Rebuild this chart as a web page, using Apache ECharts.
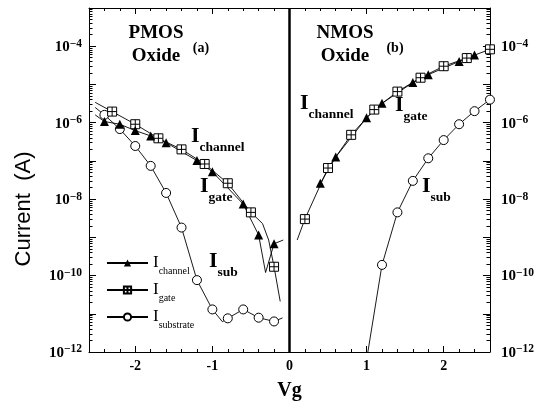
<!DOCTYPE html>
<html>
<head>
<meta charset="utf-8">
<title>Oxide currents vs Vg</title>
<script src="https://cdn.jsdelivr.net/npm/echarts@6.0.0/dist/echarts.min.js"></script>
<style>
  html, body { margin: 0; padding: 0; background: #fff; }
  #chart { width: 537px; height: 409px; }
</style>
</head>
<body>
<div id="chart"></div>
<script>
// axis labels
const vgLabels = [-2, -1, 0, 1, 2];
const currentLabels = [1e-12, 1e-10, 1e-8, 1e-6, 1e-4];

// PMOS oxide (Vg < 0), points with markers [Vg, A]
const pmosChannel = [[-2.4, 1.07e-6], [-2.2, 9.1e-7], [-2.0, 6.2e-7], [-1.8, 4.5e-7], [-1.6, 3.0e-7],
  [-1.2, 1.02e-7], [-1.0, 5.2e-8], [-0.6, 7.4e-9], [-0.4, 1.15e-9], [-0.2, 6.8e-10]];
const pmosGate = [[-2.3, 1.95e-6], [-2.0, 9.1e-7], [-1.7, 3.9e-7], [-1.4, 2.0e-7], [-1.1, 8.3e-8],
  [-0.8, 2.6e-8], [-0.5, 4.5e-9], [-0.2, 1.7e-10]];
const pmosSub = [[-2.4, 1.6e-6], [-2.2, 6.8e-7], [-2.0, 2.45e-7], [-1.8, 7.4e-8], [-1.6, 1.45e-8],
  [-1.4, 1.8e-9], [-1.2, 7.6e-11], [-1.0, 1.3e-11], [-0.8, 7.6e-12], [-0.6, 1.3e-11],
  [-0.4, 7.9e-12], [-0.2, 6.3e-12]];
// line-only points (curve ends and bends, no marker)
const pmosChannelTrace = [[-2.52, 1.6e-6], [-0.31, 1.2e-10], [-0.08, 8.5e-10]];
const pmosGateTrace = [[-2.52, 3.4e-6], [-0.35, 2.3e-9], [-0.27, 8.5e-10], [-0.12, 2.1e-11]];
const pmosSubTrace = [[-2.52, 2.5e-6], [-0.87, 6.2e-12], [-0.09, 7.8e-12]];

// NMOS oxide (Vg > 0)
const nmosChannel = [[0.4, 2.6e-8], [0.6, 1.26e-7], [1.0, 1.35e-6], [1.2, 3.2e-6], [1.6, 1.12e-5],
  [1.8, 1.8e-5], [2.2, 4.0e-5], [2.4, 5.9e-5]];
const nmosGate = [[0.2, 3.0e-9], [0.5, 6.5e-8], [0.8, 4.8e-7], [1.1, 2.2e-6], [1.4, 6.5e-6],
  [1.7, 1.5e-5], [2.0, 3.0e-5], [2.3, 4.9e-5], [2.6, 8.3e-5]];
const nmosSub = [[1.2, 1.9e-10], [1.4, 4.5e-9], [1.6, 3.0e-8], [1.8, 1.17e-7], [2.0, 3.5e-7],
  [2.2, 9.1e-7], [2.4, 2.0e-6], [2.6, 4.0e-6]];
const nmosGateTrace = [[0.1, 8.5e-10]];
const nmosSubTrace = [[1.0, 6.2e-13]];

function curve(marked, trace) {
  return marked.map(p => ({ value: p }))
    .concat(trace.map(p => ({ value: p, symbol: 'none' })))
    .sort((a, b) => a.value[0] - b.value[0]);
}

// tick positions
const vgMinor = [];
for (let i = -13; i <= 13; i++) if (i % 5 !== 0) vgMinor.push(i / 5);
const decades = [];
const currentMinor = [];
for (let e = -12; e <= -3; e++) {
  decades.push(Math.pow(10, e));
  if (e < -3) for (let k = 2; k <= 9; k++) currentMinor.push(k * Math.pow(10, e));
}

const serif = 'Liberation Serif';
const squareCross = 'path://M0,0H10V10H0ZM5,0V10M0,5H10';
const lineStyle = { color: '#000', width: 0.9 };
const hollow = { color: '#fff', borderColor: '#000', borderWidth: 1 };

function xAxis(pos, major) {
  return {
    type: 'value', min: -2.6, max: 2.6, position: pos,
    axisLine: { show: major, onZero: false, lineStyle: { color: '#000', width: 1 } },
    axisTick: { inside: true, length: major ? 6 : 3, customValues: major ? vgLabels : vgMinor,
      lineStyle: { color: '#000' } },
    axisLabel: { show: major && pos === 'bottom', customValues: vgLabels, margin: 7, color: '#000',
      fontFamily: serif, fontWeight: 'bold', fontSize: 14 },
    splitLine: { show: false }
  };
}
const yRich = {
  b: { fontFamily: serif, fontWeight: 'bold', fontSize: 15, lineHeight: 17, verticalAlign: 'bottom', color: '#000' },
  e: { fontFamily: serif, fontWeight: 'bold', fontSize: 11.5, lineHeight: 11, verticalAlign: 'top', color: '#000' }
};
function yAxis(pos, major) {
  return {
    type: 'log', logBase: 10, min: 1e-12, max: 1e-3, position: pos,
    axisLine: { show: major, onZero: false, lineStyle: { color: '#000', width: 1 } },
    axisTick: { inside: true, length: major ? 7 : 3.5, customValues: major ? decades : currentMinor,
      lineStyle: { color: '#000' } },
    axisLabel: { show: major, customValues: currentLabels, margin: pos === 'left' ? 7 : 11,
      formatter: v => '{b|10}{e|\u2212' + Math.abs(Math.round(Math.log10(v))) + '}', rich: yRich },
    splitLine: { show: false },
    minorTick: { show: false }
  };
}

const annRich = {
  i: { fontFamily: serif, fontWeight: 'bold', fontSize: 22, lineHeight: 22, verticalAlign: 'top', fill: '#000' },
  s: { fontFamily: serif, fontWeight: 'bold', fontSize: 13.5, lineHeight: 14, padding: [16, 0, 0, 0], verticalAlign: 'top', fill: '#000' }
};
function ann(x, y, sub) {
  return { type: 'text', x: x, y: y, style: { text: '{i|I}{s|' + sub + '}', rich: annRich, align: 'left', verticalAlign: 'top' } };
}
function title(x, y, txt, size) {
  return { type: 'text', x: x, y: y, style: { text: txt, fontFamily: serif, fontWeight: 'bold', fontSize: size,
    lineHeight: 23, align: 'center', verticalAlign: 'top', fill: '#000' } };
}

const chart = echarts.init(document.getElementById('chart'));
chart.setOption({
  animation: false,
  backgroundColor: '#fff',
  grid: { left: 89, right: 47, top: 8, bottom: 57 },
  xAxis: [
    Object.assign(xAxis('bottom', true), { name: 'Vg', nameLocation: 'middle', nameGap: 29,
      nameTextStyle: { fontFamily: serif, fontWeight: 'bold', fontSize: 20, color: '#000' } }),
    xAxis('bottom', false), xAxis('top', true), xAxis('top', false)
  ],
  yAxis: [yAxis('left', true), yAxis('left', false), yAxis('right', true), yAxis('right', false)],
  legend: {
    orient: 'vertical', left: 106, top: 250, padding: 0, itemWidth: 41, itemHeight: 9, itemGap: 1,
    data: ['channel', 'gate', 'substrate'],
    formatter: name => '{i|I}{s|' + name + '}',
    textStyle: {
      rich: {
        i: { fontFamily: serif, fontSize: 17, lineHeight: 17, verticalAlign: 'middle', color: '#000' },
        s: { fontFamily: serif, fontSize: 10, lineHeight: 10, padding: [16, 0, 0, 0], verticalAlign: 'middle', color: '#000' }
      }
    }
  },
  graphic: [
    title(156, 22, 'PMOS\nOxide', 19), title(201, 37, '(a)', 14),
    title(345, 22, 'NMOS\nOxide', 19), title(395, 37, '(b)', 14),
    ann(191, 125, 'channel'), ann(200, 175, 'gate'), ann(209, 250, 'sub'),
    ann(300, 92, 'channel'), ann(395, 94, 'gate'), ann(422, 175, 'sub'),
    { type: 'text', x: 24, y: 209, rotation: Math.PI / 2,
      style: { text: 'Current  (A)', fontFamily: 'Liberation Sans', fontSize: 22, align: 'center', verticalAlign: 'middle', fill: '#000' } }
  ],
  series: [
    { name: 'substrate', type: 'line', data: curve(pmosSub, pmosSubTrace), symbol: 'circle', symbolSize: 9,
      lineStyle: lineStyle, itemStyle: hollow,
      markLine: { silent: true, symbol: ['none', 'none'], label: { show: false },
        lineStyle: { color: '#000', width: 2.5, type: 'solid' }, data: [{ xAxis: 0 }] } },
    { name: 'gate', type: 'line', data: curve(pmosGate, pmosGateTrace), symbol: squareCross, symbolSize: 9,
      lineStyle: lineStyle, itemStyle: hollow },
    { name: 'channel', type: 'line', data: curve(pmosChannel, pmosChannelTrace), symbol: 'triangle', symbolSize: 9,
      lineStyle: lineStyle, itemStyle: { color: '#000' } },
    { name: 'substrate', type: 'line', data: curve(nmosSub, nmosSubTrace), symbol: 'circle', symbolSize: 9,
      lineStyle: lineStyle, itemStyle: hollow },
    { name: 'gate', type: 'line', data: curve(nmosGate, nmosGateTrace), symbol: squareCross, symbolSize: 9,
      lineStyle: lineStyle, itemStyle: hollow },
    { name: 'channel', type: 'line', data: curve(nmosChannel, []), symbol: 'triangle', symbolSize: 9,
      lineStyle: lineStyle, itemStyle: { color: '#000' } }
  ]
});
</script>
</body>
</html>
